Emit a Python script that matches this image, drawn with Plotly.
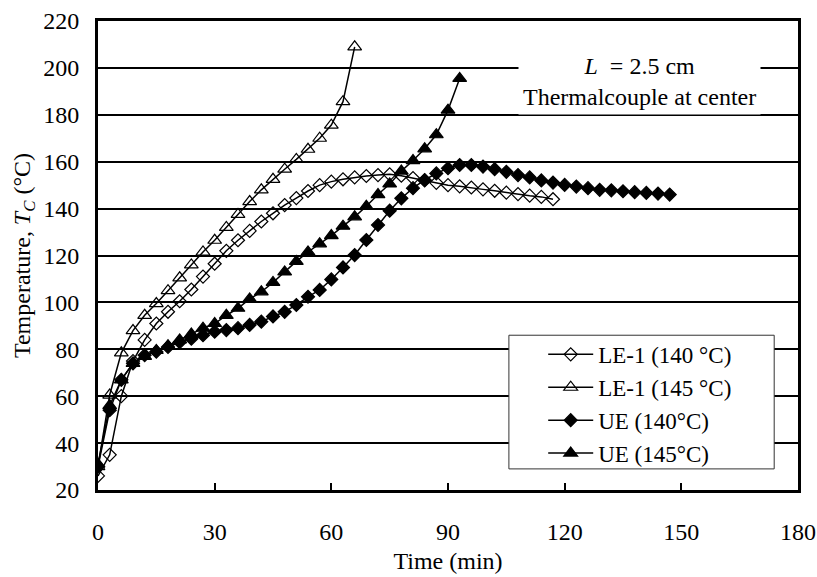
import plotly.graph_objects as go

# ---- data ----
t_le140 = [0, 3, 6, 9, 12, 15, 18, 21, 24, 27, 30, 33, 36, 39, 42, 45, 48, 51, 54, 57,
           60, 63, 66, 69, 72, 75, 78, 81, 84, 87, 90, 93, 96, 99, 102, 105, 108, 111, 114, 117]
T_le140 = [26, 35, 60, 75, 84, 91, 96, 100.5, 105.5, 111, 116.5, 122, 126.5, 130.5, 134.5, 138,
           141.5, 144.5, 147.5, 150, 151.5, 152.5, 153.3, 153.9, 154.3, 154.6, 154, 153, 152, 151,
           150, 149.5, 149, 148.2, 147.6, 146.8, 146.2, 145.5, 145, 144]

t_le145 = [0, 3, 6, 9, 12, 15, 18, 21, 24, 27, 30, 33, 36, 39, 42, 45, 48, 51, 54, 57, 60, 63, 66]
T_le145 = [30, 60.5, 78.5, 88, 94.5, 99.5, 105, 110.5, 116, 121.5, 126.5, 132, 137.5, 143, 148,
           152.5, 156.8, 161, 165.3, 170, 175.6, 185.6, 209]

t_ue140 = [0, 3, 6, 9, 12, 15, 18, 21, 24, 27, 30, 33, 36, 39, 42, 45, 48, 51, 54, 57,
           60, 63, 66, 69, 72, 75, 78, 81, 84, 87, 90, 93, 96, 99, 102, 105, 108, 111, 114, 117,
           120, 123, 126, 129, 132, 135, 138, 141, 144, 147]
T_ue140 = [30, 54, 67, 74, 77.5, 79, 81, 83, 84.5, 86, 87.5, 88.2, 89, 90.4, 91.8, 94, 96, 98.9,
           102.4, 105.3, 109.8, 114.9, 120.2, 126.6, 133, 139.1, 144.4, 148.7, 152.2, 155, 157.2,
           158.6, 158.6, 157.9, 156.8, 155.7, 154.3, 153.3, 152, 151.1, 150.1, 149.4, 148.7, 148,
           147.8, 147.4, 147, 146.7, 146.4, 146]

t_ue145 = [0, 3, 6, 9, 12, 15, 18, 21, 24, 27, 30, 33, 36, 39, 42, 45, 48, 51, 54, 57,
           60, 63, 66, 69, 72, 75, 78, 81, 84, 87, 90, 93]
T_ue145 = [31, 56, 67, 74, 77, 79.5, 81.5, 84, 86.5, 89, 91, 94.5, 97.5, 101.5, 104.5, 108.5,
           113, 117.5, 121.5, 125, 128.5, 132.5, 136.5, 141, 146, 150.5, 156, 160.5, 165.5,
           171.5, 182, 195.5]

names = ["LE-1 (140 °C)", "LE-1 (145 °C)", "UE (140°C)", "UE (145°C)"]
x_ticks = [0, 30, 60, 90, 120, 150, 180]
y_ticks = [20, 40, 60, 80, 100, 120, 140, 160, 180, 200, 220]

FONT = "Liberation Serif, Times New Roman, serif"

fig = go.Figure()
series = [
    (t_le140, T_le140, "diamond-open", 10),
    (t_le145, T_le145, "triangle-up-open", 12),
    (t_ue140, T_ue140, "diamond", 10),
    (t_ue145, T_ue145, "triangle-up", 12),
]
for (x, y, sym, sz), nm in zip(series, names):
    fig.add_trace(go.Scatter(
        x=x, y=y, name=nm, mode="lines+markers",
        line=dict(color="black", width=1.5),
        marker=dict(symbol=sym, size=sz, color="black",
                    line=dict(color="black", width=1.2)),
    ))

fig.update_layout(
    width=817, height=577,
    margin=dict(l=98, r=19, t=21, b=87),
    paper_bgcolor="white", plot_bgcolor="white",
    font=dict(family=FONT, size=24, color="black"),
    showlegend=True,
    legend=dict(x=0.636, y=0.335, xanchor="left", yanchor="top",
                bgcolor="rgba(0,0,0,0)", borderwidth=0,
                font=dict(family=FONT, size=23), tracegroupgap=0,
                itemwidth=45),
    shapes=[dict(
        type="rect", xref="paper", yref="paper",
        x0=0.587, x1=0.966, y0=0.045, y1=0.330,
        fillcolor="white", line=dict(color="#333333", width=1), layer="above",
    )],
    annotations=[dict(
        xref="paper", yref="paper", x=0.774, y=0.871,
        xanchor="center", yanchor="middle",
        text="<i>L</i>  = 2.5 cm<br>Thermalcouple at center",
        showarrow=False, bgcolor="white", borderpad=4,
        font=dict(family=FONT, size=24, color="black"),
    )],
)

fig.update_xaxes(
    range=[0, 180], tickvals=x_ticks, ticktext=[str(v) for v in x_ticks],
    showline=True, linecolor="black", linewidth=3, mirror=True,
    ticks="inside", ticklen=7, tickcolor="black", tickwidth=1.5,
    showgrid=False, zeroline=False, automargin=False,
    ticklabelstandoff=18,
    title=dict(text="Time (min)", standoff=9, font=dict(family=FONT, size=24)),
)
fig.update_yaxes(
    range=[20, 220], tickvals=y_ticks, ticktext=[str(v) for v in y_ticks],
    showline=True, linecolor="black", linewidth=3, mirror=True,
    ticks="inside", ticklen=7, tickcolor="black", tickwidth=1.5,
    showgrid=True, gridcolor="black", gridwidth=1.5, zeroline=False, automargin=False,
    ticklabelstandoff=11,
    title=dict(text="Temperature, <i>T<sub>C</sub></i> (°C)", standoff=6,
               font=dict(family=FONT, size=24)),
)

fig.write_html("out.html")
